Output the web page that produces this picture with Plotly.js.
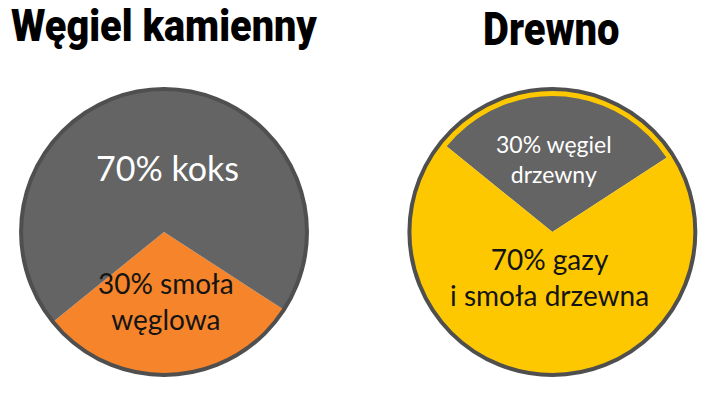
<!DOCTYPE html>
<html>
<head>
<meta charset="utf-8">
<script src="https://cdn.plot.ly/plotly-3.0.1.min.js"></script>
<style>
  html, body { margin: 0; padding: 0; background: #fff; }
  #chart { width: 705px; height: 401px; }
  /* headings: squeeze the heavy face so it looks condensed */
  g.annotation[data-index="0"] text,
  g.annotation[data-index="1"] text {
    transform-box: fill-box;
    transform-origin: center;
  }
  g.annotation[data-index="0"] text { transform: scaleX(0.9); }
  g.annotation[data-index="1"] text { transform: scaleX(0.85); }
</style>
</head>
<body>
<div id="chart"></div>
<script>
// data
const titles = ['Węgiel kamienny', 'Drewno'];

const coalLabels = ['30% smoła<br>węglowa', '70% koks'];
const coalValues = [30, 70];
const coalColors = ['#f6842a', '#646464'];
const coalTextColors = ['#141414', '#ffffff'];

const woodLabels = ['30% węgiel<br>drzewny', '70% gazy<br>i smoła drzewna'];
const woodValues = [30, 70];
const woodColors = ['#646464', '#fec800'];
const woodTextColors = ['#ffffff', '#141414'];

const outline = '#4f4f4f';
const labelFont = 'Lato, "Open Sans", sans-serif';

const leftDomain = {x: [0.0298, 0.4355], y: [0.065, 0.778]};
const rightDomain = {x: [0.580, 0.987], y: [0.065, 0.778]};
const rightInner = {x: [0.5858, 0.9816], y: [0.0748, 0.768]};

function ring(domain, color, width) {
    return {
        type: 'pie',
        values: [1],
        domain: domain,
        sort: false,
        textinfo: 'none',
        hoverinfo: 'skip',
        showlegend: false,
        marker: {colors: ['rgba(0,0,0,0)'], line: {color: color, width: width}}
    };
}

function slices(values, colors, domain, rotation) {
    return {
        type: 'pie',
        values: values,
        domain: domain,
        sort: false,
        direction: 'clockwise',
        rotation: rotation,
        textinfo: 'none',
        marker: {colors: colors, line: {width: 0}},
        showlegend: false
    };
}

const data = [
    slices(coalValues, coalColors, leftDomain, 123),
    ring(leftDomain, outline, 4),
    slices(woodValues, woodColors, rightDomain, -51),
    ring(rightInner, woodColors[1], 6),
    ring(rightDomain, outline, 4)
];

// label placement (paper coords) and sizes
const labelPos = [
    {x: 0.2355, y: 0.250, size: 28},
    {x: 0.2369, y: 0.5835, size: 34},
    {x: 0.7858, y: 0.603, size: 23},
    {x: 0.7794, y: 0.31, size: 28}
];
const labelTexts = coalLabels.concat(woodLabels);
const labelColors = coalTextColors.concat(woodTextColors);

const titleFont = size => ({family: 'Roboto, "DejaVu Sans", sans-serif', size: size, color: '#000', weight: 900});

const annotations = [
    {text: titles[0], x: 0.233, y: 0.935, font: titleFont(44)},
    {text: titles[1], x: 0.7816, y: 0.928, font: titleFont(47)}
].concat(labelTexts.map((t, i) => ({
    text: t,
    x: labelPos[i].x,
    y: labelPos[i].y,
    font: {family: labelFont, size: labelPos[i].size, color: labelColors[i]}
}))).map(a => Object.assign({xref: 'paper', yref: 'paper', xanchor: 'center', yanchor: 'middle', showarrow: false}, a));

const layout = {
    width: 705,
    height: 401,
    margin: {l: 0, r: 0, t: 0, b: 0},
    paper_bgcolor: '#fff',
    showlegend: false,
    annotations: annotations
};

Plotly.newPlot('chart', data, layout, {staticPlot: true, displayModeBar: false});
</script>
</body>
</html>
